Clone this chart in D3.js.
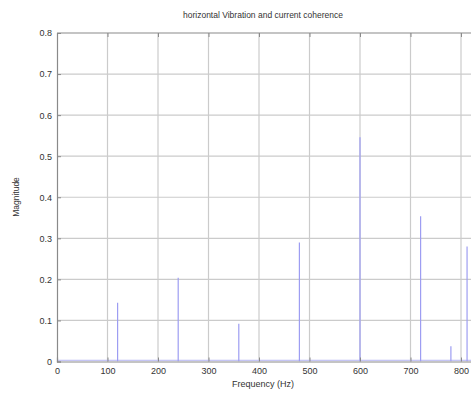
<!DOCTYPE html>
<html>
<head>
<meta charset="utf-8">
<script src="https://cdn.jsdelivr.net/npm/d3@7"></script>
<style>
  body { margin: 0; background: #fff; }
  text { font-family: "Liberation Sans", Arial, sans-serif; fill: #333; }
</style>
</head>
<body>
<svg id="graph"></svg>
<script>
// peaks of the coherence (Hz, magnitude)
var freqs = [0, 120, 240, 360, 480, 600, 720, 780, 812];
var mags = [1.0, 0.143, 0.204, 0.092, 0.29, 0.546, 0.354, 0.037, 0.28];
var xTicks = [0, 100, 200, 300, 400, 500, 600, 700, 800, 900];
var yTicks = [0, 0.1, 0.2, 0.3, 0.4, 0.5, 0.6, 0.7, 0.8];

var svg = d3.select("#graph")
  .attr('width', 471)
  .attr('height', 395)

var margin = {top: 33, left: 57},
    width = 454.5,
    height = 328.5;

var x = d3.scaleLinear().domain([0, 900]).range([0, width]),
    y = d3.scaleLinear().domain([0, 0.8]).range([height, 0]);

var g = svg.append("g")
  .attr("transform", "translate(" + margin.left + "," + margin.top + ")")

svg.append("defs").append("clipPath").attr("id", "clip")
  .append("rect").attr("width", width).attr("height", height)

// grid
g.selectAll(".vgrid").data(xTicks.slice(1)).enter().append("line")
  .attr("x1", d => x(d)).attr("x2", d => x(d))
  .attr("y1", 0).attr("y2", height)
  .attr("stroke", "#cbcbcb").attr("stroke-width", 1.2)
g.selectAll(".hgrid").data(yTicks.slice(1, -1)).enter().append("line")
  .attr("x1", 0).attr("x2", width)
  .attr("y1", d => y(d)).attr("y2", d => y(d))
  .attr("stroke", "#cbcbcb").attr("stroke-width", 1.2)

// series
var plot = g.append("g").attr("clip-path", "url(#clip)")
plot.append("line")
  .attr("x1", x(0)).attr("x2", width)
  .attr("y1", y(0.003)).attr("y2", y(0.003))
  .attr("stroke", "#b4b4f2").attr("stroke-width", 1)
plot.selectAll(".stem").data(freqs).enter().append("line")
  .attr("x1", d => x(d)).attr("x2", d => x(d))
  .attr("y1", y(0)).attr("y2", (d, i) => y(mags[i]))
  .attr("stroke", "#9d9df2").attr("stroke-width", 1.2)

// box + axes
g.append("line").attr("x1", 0).attr("x2", width).attr("y1", 0).attr("y2", 0)
  .attr("stroke", "#8a8a8a").attr("stroke-width", 1.2)

var xa = g.append("g")
  .attr("transform", "translate(0," + height + ")")
  .call(d3.axisBottom(x).tickValues(xTicks).tickSize(-4).tickPadding(6).tickFormat(d3.format("d")))
var xt = g.append("g")
  .call(d3.axisTop(x).tickValues(xTicks).tickSize(-4).tickFormat(""))
var ya = g.append("g")
  .call(d3.axisLeft(y).tickValues(yTicks).tickSize(-4).tickPadding(5).tickFormat(d3.format("")))

;[xa, xt, ya].forEach(function(a) {
  a.select(".domain").attr("stroke", "#8a8a8a").attr("stroke-width", 1.2)
  a.selectAll(".tick line").attr("stroke", "#8a8a8a")
  a.selectAll("text").style("font-size", "9px").attr("fill", "#333")
})
xt.select(".domain").remove()

// labels
svg.append("text").attr("x", 263).attr("y", 18).attr("text-anchor", "middle")
  .style("font-size", "8.5px").text("horizontal Vibration and current coherence")
svg.append("text").attr("x", 263).attr("y", 387).attr("text-anchor", "middle")
  .style("font-size", "9px").text("Frequency (Hz)")
svg.append("text").attr("transform", "translate(19,197) rotate(-90)").attr("text-anchor", "middle")
  .style("font-size", "8.5px").text("Magnitude")
</script>
</body>
</html>
